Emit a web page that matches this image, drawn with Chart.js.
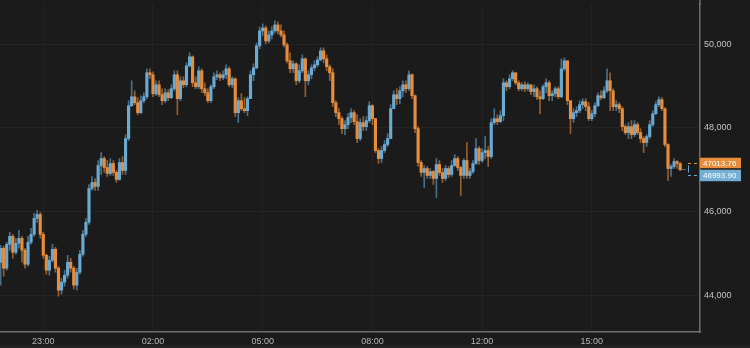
<!DOCTYPE html>
<html>
<head>
<meta charset="utf-8">
<script src="https://cdn.jsdelivr.net/npm/chart.js@4.4.1/dist/chart.umd.min.js"></script>
<style>
  html, body { margin: 0; padding: 0; background: #1b1b1b; }
  canvas { display: block; }
</style>
</head>
<body>
<canvas id="myChart" width="750" height="348"></canvas>
<script>
// 5 minute candles, open = previous close
const firstOpen = 44786;
const closes = [
  45120, 44643, 45215, 45406, 45024, 45239, 45358, 45072, 44738, 45263,
  45454, 45835, 45930, 45454, 44953, 44595, 44834, 45096, 44643, 44118,
  44309, 44476, 44786, 44643, 44238, 44548, 44977, 45454, 45740, 46550,
  46693, 46598, 47098, 47265, 47051, 46908, 47146, 46932, 46765, 47170,
  46979, 47742, 48529, 48743, 48600, 48362, 48648, 48743, 49316, 49268,
  48815, 49029, 48791, 48648, 48839, 48720, 48934, 49268, 48696, 49125,
  49029, 49482, 49697, 49077, 48982, 49363, 48934, 48839, 48648, 48982,
  49220, 49268, 49196, 49268, 49411, 49029, 49172, 48362, 48648, 48457,
  48410, 48696, 49268, 49435, 49959, 50317, 50388, 50078, 50221, 50317,
  50460, 50317, 50221, 49983, 49602, 49411, 49530, 49125, 49363, 49649,
  49125, 49268, 49435, 49506, 49626, 49840, 49649, 49459, 49316, 48600,
  48362, 48219, 47980, 48076, 48243, 48362, 48147, 47742, 48124, 48028,
  48171, 48529, 48219, 47456, 47265, 47456, 47599, 47742, 48457, 48791,
  48696, 48886, 49029, 48934, 49268, 48767, 47980, 47170, 46932, 47027,
  46860, 46955, 46789, 47122, 46932, 46789, 47027, 46884, 47098, 47265,
  47051, 46860, 47218, 46860, 46955, 47146, 47504, 47218, 47408, 47456,
  47313, 48124, 48219, 48147, 48290, 49077, 48982, 49172, 49316, 49077,
  48934, 49029, 48934, 49029, 48863, 48934, 48743, 48696, 48982, 49077,
  48767, 48815, 48934, 48743, 49411, 49602, 48648, 48219, 48362, 48410,
  48553, 48624, 48505, 48219, 48338, 48529, 48767, 48720, 48886, 49125,
  48886, 48505, 48553, 48457, 48028, 47885, 48028, 47837, 48076, 47885,
  47742, 47647, 47790, 48076, 48338, 48553, 48672, 48457, 47599, 47027,
  47075, 47194, 47146, 46994
];
const highs = [
  45191, 45167, 45263, 45501, 45454, 45358, 45549, 45406, 45120, 45406,
  45596, 45954, 46026, 45978, 45501, 44977, 44929, 45215, 45144, 44691,
  44404, 44595, 44953, 44881, 44691, 44643, 45072, 45549, 45835, 46645,
  46836, 46789, 47218, 47408, 47313, 47218, 47265, 47218, 46979, 47265,
  47313, 47837, 48648, 49125, 48886, 48720, 48767, 48839, 49411, 49411,
  49339, 49125, 49125, 48934, 48934, 48910, 49029, 49363, 49363, 49220,
  49220, 49554, 49792, 49721, 49220, 49459, 49411, 49077, 48934, 49029,
  49316, 49363, 49316, 49363, 49506, 49459, 49220, 49196, 48720, 48815,
  48720, 48743, 49363, 49530, 50031, 50412, 50484, 50436, 50317, 50412,
  50555, 50531, 50460, 50317, 50031, 49792, 49602, 49554, 49506, 49745,
  49673, 49363, 49506, 49602, 49697, 49912, 49912, 49745, 49506, 49411,
  48648, 48457, 48267, 48171, 48338, 48457, 48410, 48314, 48219, 48267,
  48267, 48624, 48553, 48219, 47504, 47551, 47694, 47861, 48553, 48886,
  48934, 48982, 49125, 49125, 49363, 49292, 48790, 48028, 47218, 47098,
  47075, 47027, 46979, 47265, 47218, 47027, 47098, 47075, 47218, 47361,
  47313, 47075, 47265, 47647, 47027, 47218, 47742, 47551, 47504, 47790,
  47551, 48219, 48457, 48314, 48410, 49172, 49125, 49268, 49363, 49316,
  49125, 49077, 49101, 49077, 49029, 49029, 48982, 48886, 49029, 49172,
  49125, 48886, 48982, 48982, 49649, 49673, 49602, 48648, 48457, 48505,
  48648, 48696, 48696, 48600, 48410, 48600, 48839, 48886, 48982, 49411,
  49316, 48934, 48648, 48600, 48505, 48076, 48124, 48171, 48171, 48124,
  47980, 47790, 47837, 48171, 48410, 48624, 48743, 48720, 48481, 47620,
  47122, 47265, 47218, 47170
];
const lows = [
  44238, 44452, 44595, 45072, 44881, 44977, 45120, 44786, 44643, 44691,
  45215, 45406, 45740, 45358, 44881, 44500, 44476, 44786, 44548, 43975,
  44023, 44214, 44404, 44548, 44142, 44118, 44500, 44929, 45406, 45692,
  46502, 46502, 46502, 46884, 46932, 46836, 46860, 46860, 46693, 46741,
  46884, 46884, 47694, 48505, 48553, 48314, 48338, 48600, 48696, 49172,
  48743, 48767, 48743, 48553, 48600, 48648, 48696, 48886, 48314, 48648,
  48958, 48982, 49459, 48982, 48934, 48934, 48839, 48767, 48600, 48600,
  48934, 49149, 49125, 49149, 49172, 48982, 48958, 48267, 48124, 48410,
  48362, 48290, 48696, 49125, 49411, 49888, 50198, 50007, 50031, 50126,
  50269, 50245, 50174, 49935, 49554, 49316, 49316, 49029, 49077, 49316,
  48743, 49029, 49172, 49363, 49459, 49602, 49554, 49363, 49125, 48505,
  48267, 48076, 47861, 47837, 47980, 48124, 48076, 47647, 47694, 47933,
  47933, 48124, 48076, 47408, 47146, 47170, 47408, 47551, 47742, 48457,
  48553, 48576, 48743, 48839, 48886, 48696, 47885, 47075, 46836, 46574,
  46789, 46789, 46645, 46336, 46860, 46693, 46741, 46812, 46836, 47075,
  46979, 46383, 46789, 46789, 46789, 46908, 47122, 47122, 47170, 47265,
  47075, 47265, 48076, 48076, 48124, 48171, 48886, 48934, 49125, 49029,
  48886, 48886, 48863, 48886, 48791, 48743, 48672, 48338, 48672, 48839,
  48648, 48648, 48743, 48696, 48720, 49363, 48553, 47861, 48124, 48267,
  48362, 48457, 48410, 48171, 48171, 48267, 48505, 48672, 48696, 48839,
  48410, 48410, 48410, 48362, 47933, 47837, 47742, 47742, 47790, 47837,
  47647, 47408, 47551, 47742, 48028, 48314, 48505, 48410, 47551, 46741,
  46836, 47027, 47027, 46979
];
const opens = [firstOpen].concat(closes.slice(0, -1));

const tickIndex = [14, 50, 86, 122, 158, 194];
const tickLabels = ["23:00", "02:00", "05:00", "08:00", "12:00", "15:00"];
const priceTicks = [44000, 46000, 48000, 50000];
const askPrice = 47013.76;
const bidPrice = 46993.90;

const BLUE = "#6aaad3";
const ORANGE = "#e88d3b";
const BLUE_WICK = "rgba(106,170,211,0.6)";
const ORANGE_WICK = "rgba(232,141,59,0.6)";

const isUp = (i) => closes[i] >= opens[i];

const bodies = closes.map((c, i) => ({ x: i, y: [opens[i], c] }));
const wicks = closes.map((c, i) => ({ x: i, y: [lows[i], highs[i]] }));

const background = {
  id: "background",
  beforeDraw(chart) {
    const ctx = chart.ctx;
    ctx.save();
    ctx.fillStyle = "#1b1b1b";
    ctx.fillRect(0, 0, chart.width, chart.height);
    ctx.fillStyle = "#222222";
    ctx.fillRect(0, chart.height - 3, chart.width, 3);
    // axis border runs up to the top edge
    ctx.fillStyle = "#6f6f6f";
    ctx.fillRect(chart.chartArea.right - 0.75, 0, 1.5, chart.chartArea.top + 1);
    ctx.restore();
  },
};

const lastPrice = {
  id: "lastPrice",
  afterDraw(chart) {
    const ctx = chart.ctx;
    const area = chart.chartArea;
    const y = chart.scales.y;
    const mid = (y.getPixelForValue(askPrice) + y.getPixelForValue(bidPrice)) / 2;
    const askY = mid - 6.5;
    const bidY = mid + 6;
    const r = area.right;
    ctx.save();
    // dashed bracket
    ctx.lineWidth = 1;
    ctx.setLineDash([3, 3]);
    ctx.strokeStyle = ORANGE;
    ctx.beginPath();
    ctx.moveTo(r - 12, Math.round(askY) + 0.5);
    ctx.lineTo(r, Math.round(askY) + 0.5);
    ctx.stroke();
    ctx.strokeStyle = BLUE;
    ctx.beginPath();
    ctx.moveTo(r - 12, Math.round(bidY) + 0.5);
    ctx.lineTo(r, Math.round(bidY) + 0.5);
    ctx.stroke();
    ctx.setLineDash([]);
    ctx.beginPath();
    ctx.moveTo(r - 11.5, mid - 4);
    ctx.lineTo(r - 11.5, mid + 3);
    ctx.stroke();
    ctx.strokeStyle = "rgba(106,170,211,0.6)";
    ctx.beginPath();
    ctx.moveTo(r - 18, Math.round(mid) + 0.5);
    ctx.lineTo(r - 14, Math.round(mid) + 0.5);
    ctx.stroke();
    // price boxes
    ctx.fillStyle = ORANGE;
    ctx.fillRect(r, askY - 5.25, 41, 10.5);
    ctx.fillStyle = "#74b0d6";
    ctx.fillRect(r, bidY - 5.75, 41, 11.5);
    ctx.fillStyle = "#ffffff";
    ctx.font = "8px 'Liberation Sans', Arial, sans-serif";
    ctx.textBaseline = "middle";
    ctx.textAlign = "left";
    ctx.fillText(askPrice.toFixed(2), r + 3, askY + 0.5);
    ctx.fillText(bidPrice.toFixed(2), r + 3, bidY + 0.5);
    ctx.restore();
  },
};

Chart.defaults.font.family = "'Liberation Sans', Arial, sans-serif";

const config = {
  type: "bar",
  data: {
    datasets: [
      {
        label: "body",
        data: bodies,
        order: 0,
        grouped: false,
        barThickness: 2.5,
        minBarLength: 1,
        borderWidth: 0,
        backgroundColor: (c) => (isUp(c.dataIndex) ? BLUE : ORANGE),
      },
      {
        label: "wick",
        data: wicks,
        order: 1,
        grouped: false,
        barThickness: 1,
        borderWidth: 0,
        backgroundColor: (c) => (isUp(c.dataIndex) ? BLUE_WICK : ORANGE_WICK),
      },
    ],
  },
  options: {
    responsive: false,
    animation: false,
    devicePixelRatio: 1,
    layout: { padding: 0 },
    plugins: {
      legend: false,
      tooltip: { enabled: false },
    },
    scales: {
      x: {
        type: "linear",
        offset: false,
        min: -0.2,
        max: 229.5,
        afterBuildTicks: (scale) => {
          scale.ticks = tickIndex.map((v) => ({ value: v }));
        },
        afterFit: (scale) => {
          scale.height = 16;
        },
        grid: { color: "#232323", drawTicks: false, offset: false },
        border: { color: "#6f6f6f", width: 1.5 },
        ticks: {
          autoSkip: false,
          maxRotation: 0,
          padding: 4,
          color: "#b8b8b8",
          font: { size: 9 },
          callback: (v) => tickLabels[tickIndex.indexOf(v)],
        },
      },
      y: {
        position: "right",
        min: 43118,
        max: 50960,
        afterBuildTicks: (scale) => {
          scale.ticks = priceTicks.map((v) => ({ value: v }));
        },
        afterFit: (scale) => {
          scale.width = 50;
        },
        grid: { color: "#242424", drawTicks: false },
        border: { color: "#6f6f6f", width: 1.5 },
        ticks: {
          padding: 4,
          color: "#c4c4c4",
          font: { size: 9, lineHeight: 0 },
          callback: (v) => v.toLocaleString("en-US"),
        },
      },
    },
  },
  plugins: [background, lastPrice],
};

const context = document.getElementById("myChart").getContext("2d");
const chart = new Chart(context, config);
</script>
</body>
</html>
